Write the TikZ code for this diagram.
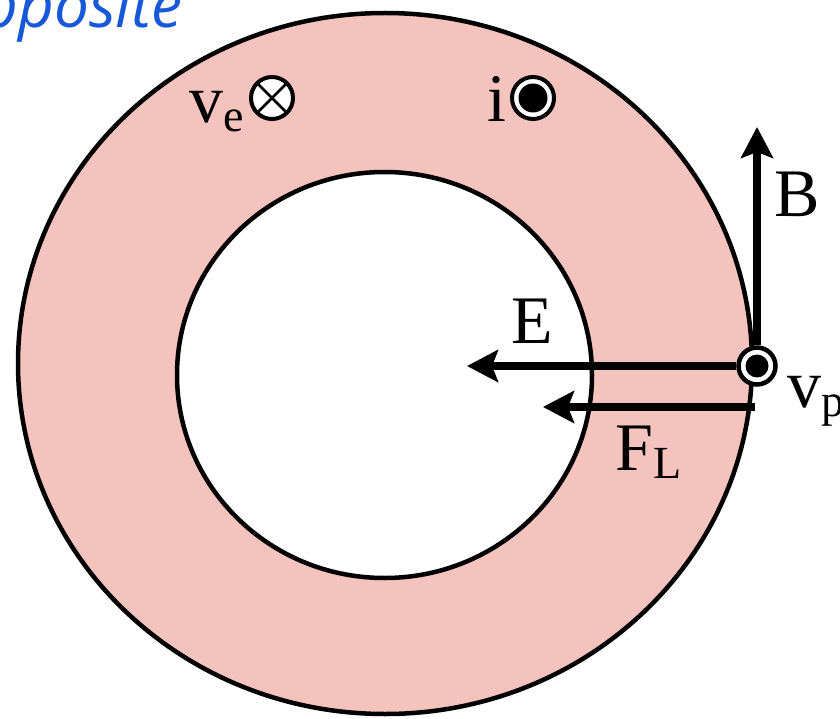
\documentclass[tikz,border=0pt]{standalone}
\usepackage{fontspec}
\setmainfont{Liberation Serif}
\newfontfamily\handfont{Open Sans}
\usetikzlibrary{arrows.meta}
\definecolor{ringpink}{RGB}{245,195,190}
\definecolor{handblue}{RGB}{22,88,216}
\tikzset{
  ringsym/.style={circle, draw, line width=4pt, fill=white, minimum size=42pt, inner sep=0pt},
  dotsym/.style={circle, fill=black, minimum size=29pt, inner sep=0pt},
  vecarrow/.style={line width=7.5pt, -{Stealth[length=31pt,width=32pt,inset=6pt]}},
  lbl/.style={font=\fontsize{68}{70}\selectfont, inner sep=0pt},
}
\newcommand{\subtxt}[2]{\raisebox{#1}{\fontsize{46}{46}\selectfont #2}}
\begin{document}
\begin{tikzpicture}[x=1pt,y=-1pt]
\fill[white] (0,0) rectangle (840,719);
\useasboundingbox (0,0) rectangle (840,719);
% ring
\draw[line width=4.5pt, fill=ringpink, even odd rule]
  (385,363.5) ellipse [x radius=367pt, y radius=350.5pt]
  (384.5,375) ellipse [x radius=207.5pt, y radius=203pt];
% handwritten fragment
\node[font=\handfont\itshape\fontsize{62}{62}\selectfont, text=handblue, anchor=base east, inner sep=0pt] (hand) at (183,28) {pposite};
% v_e with otimes
\node[lbl, anchor=base west] (ve) at (189,123) {v\subtxt{-9pt}{e}};
\node[ringsym] (otimes) at (272,98) {};
\draw[line width=2.5pt] ([shift={(-14,-14)}]otimes.center) -- ([shift={(14,14)}]otimes.center)
                        ([shift={(-14,14)}]otimes.center) -- ([shift={(14,-14)}]otimes.center);
% i with odot
\node[lbl, anchor=base west] (ilbl) at (487,122) {i};
\node[ringsym] (odot) at (533,98) {};
\node[dotsym] (odotdot) at (odot.center) {};
% v_p
\node[ringsym, minimum size=37pt, line width=4.5pt] (vp) at (757,366) {};
\node[dotsym, minimum size=23pt] (vpdot) at (vp.center) {};
\node[lbl, anchor=base west] (vplbl) at (787,407) {v\subtxt{-9pt}{p}};
% B
\coordinate (Btip) at (757,127);
\draw[vecarrow] (vp.north) -- (Btip);
\node[lbl, anchor=base west] (Blbl) at (774,217) {B};
% E
\coordinate (Etip) at (467,366);
\draw[vecarrow] (vp.west) -- (Etip);
\node[lbl, anchor=base west] (Elbl) at (511,343) {E};
% F_L
\coordinate (Fstart) at (755,407);
\coordinate (Ftip) at (543,407);
\draw[vecarrow] (Fstart) -- (Ftip);
\node[lbl, anchor=base west] (Flbl) at (615,470) {F\subtxt{-8pt}{L}};
\end{tikzpicture}
\end{document}
